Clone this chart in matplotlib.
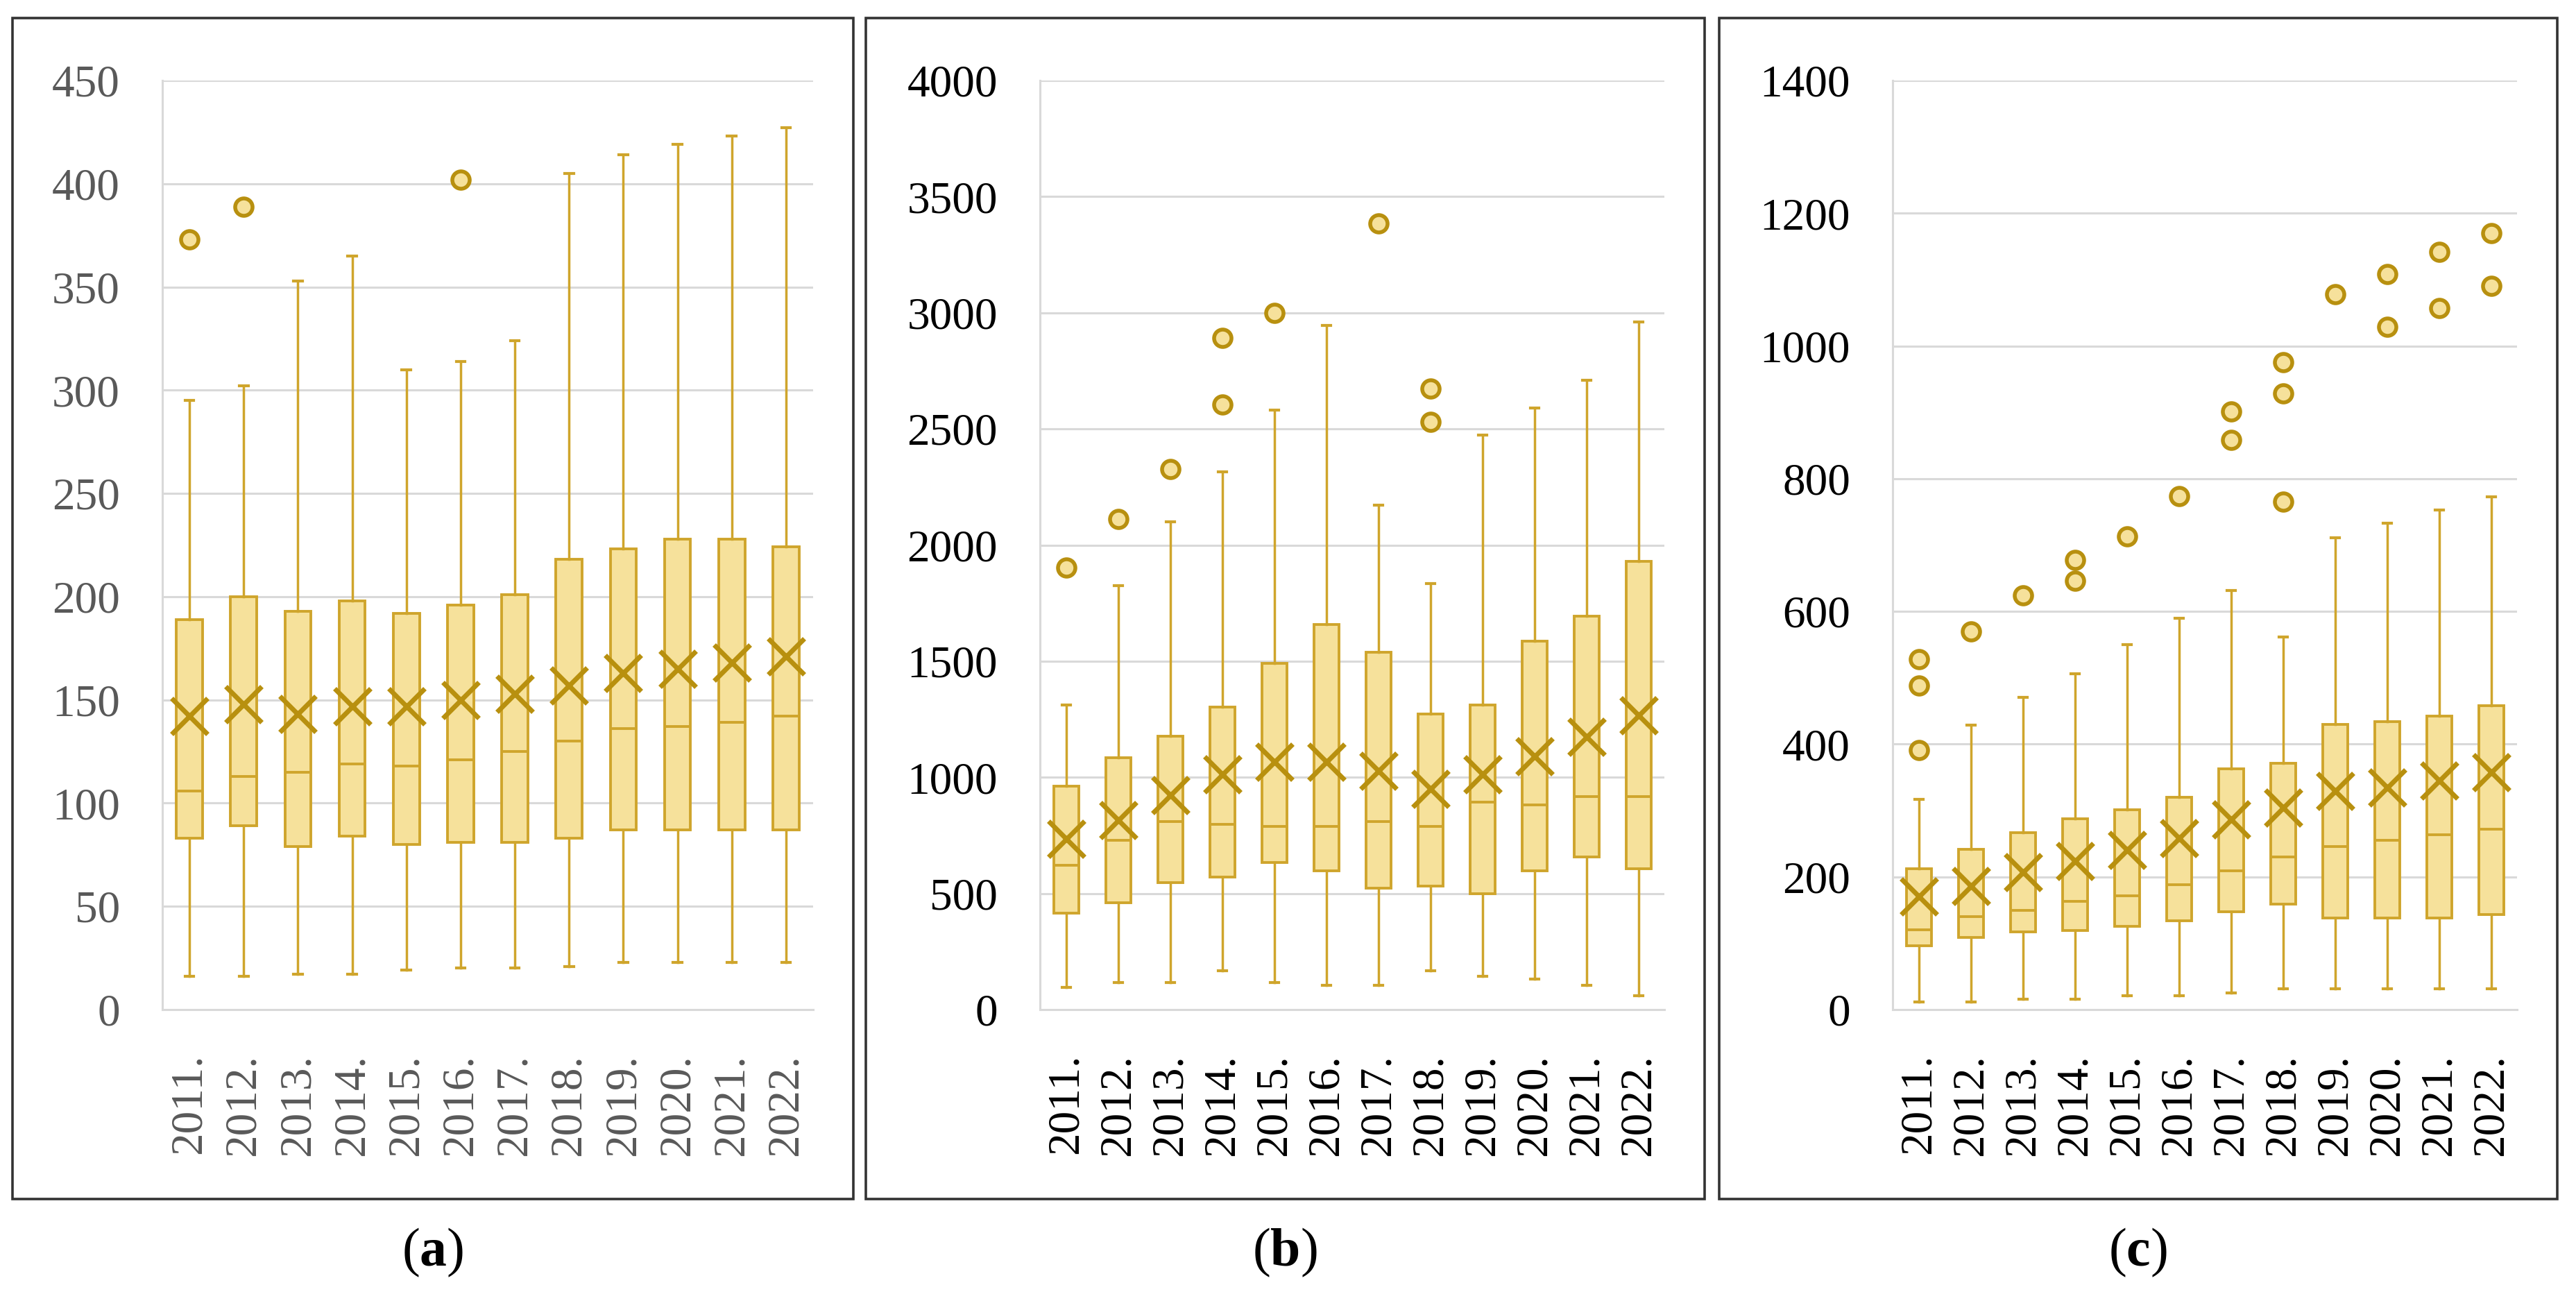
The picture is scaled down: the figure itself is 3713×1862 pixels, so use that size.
import matplotlib
matplotlib.use("Agg")
import matplotlib.pyplot as plt
from matplotlib.patches import Rectangle

plt.rcParams['font.family'] = ['Liberation Serif', 'DejaVu Serif']
plt.rcParams['mathtext.fontset'] = 'custom'
plt.rcParams['mathtext.rm'] = 'Liberation Serif'
plt.rcParams['mathtext.bf'] = 'Liberation Serif:bold'

years = ['2011.', '2012.', '2013.', '2014.', '2015.', '2016.',
         '2017.', '2018.', '2019.', '2020.', '2021.', '2022.']

# panel (a)
a_lo = [16, 16, 17, 17, 19, 20, 20, 21, 23, 23, 23, 23]
a_q1 = [83, 89, 79, 84, 80, 81, 81, 83, 87, 87, 87, 87]
a_med = [106, 113, 115, 119, 118, 121, 125, 130, 136, 137, 139, 142]
a_q3 = [189, 200, 193, 198, 192, 196, 201, 218, 223, 228, 228, 224]
a_hi = [295, 302, 353, 365, 310, 314, 324, 405, 414, 419, 423, 427]
a_mean = [142, 148, 143, 147, 147, 150, 153, 157, 163, 165, 168, 171]
a_out = [[373], [389], [], [], [], [402], [], [], [], [], [], []]

# panel (b)
b_lo = [96, 117, 117, 167, 117, 106, 106, 167, 142, 131, 106, 60]
b_q1 = [415, 461, 547, 571, 632, 596, 522, 532, 500, 596, 657, 607]
b_med = [621, 728, 809, 799, 788, 788, 809, 788, 894, 880, 916, 916]
b_q3 = [962, 1083, 1178, 1303, 1491, 1657, 1537, 1274, 1310, 1587, 1693, 1931]
b_hi = [1310, 1824, 2101, 2314, 2580, 2946, 2172, 1835, 2474, 2591, 2708, 2960]
b_mean = [735, 816, 923, 1012, 1065, 1065, 1029, 951, 1012, 1090, 1175, 1267]
b_out = [[1902], [2112], [2328], [2605, 2893], [2999], [], [3386],
         [2531, 2673], [], [], [], []]

# panel (c)
c_lo = [12, 12, 16, 16, 21, 21, 25, 31, 31, 31, 31, 31]
c_q1 = [96, 109, 117, 119, 125, 134, 147, 159, 138, 138, 138, 143]
c_med = [120, 140, 150, 163, 171, 188, 209, 230, 246, 255, 263, 272]
c_q3 = [212, 242, 267, 288, 301, 320, 363, 371, 430, 434, 442, 458]
c_hi = [317, 429, 471, 506, 550, 590, 631, 561, 711, 733, 753, 773]
c_mean = [170, 186, 207, 224, 241, 258, 286, 304, 329, 335, 345, 358]
c_out = [[391, 488, 528], [570], [624], [646, 677], [713], [774], [858, 901],
         [765, 928, 975], [1078], [1029, 1108], [1057, 1142], [1091, 1170]]

FILL = '#F6E19B'
EDGE = '#CFA52C'
DARK = '#B8900F'
W, H = 3713, 1862

fig = plt.figure(figsize=(W / 100, H / 100), dpi=100)

panels = [
    (a_lo, a_q1, a_med, a_q3, a_hi, a_mean, a_out, 450, 50, '#595959', 234, 1172, 17.5, 1230, 'a'),
    (b_lo, b_q1, b_med, b_q3, b_hi, b_mean, b_out, 4000, 500, 'black', 1499, 2399, 1247.5, 2457, 'b'),
    (c_lo, c_q1, c_med, c_q3, c_hi, c_mean, c_out, 1400, 200, 'black', 2728, 3628, 2477.5, 3686, 'c'),
]

y_top, y_bot = 116, 1455
for lo, q1, med, q3, hi, mean, out, ymax, step, tcol, x0, x1, f0, f1, tag in panels:
    ax = fig.add_axes([x0 / W, 1 - y_bot / H, (x1 - x0) / W, (y_bot - y_top) / H])
    stats = []
    for i in range(len(years)):
        stats.append(dict(whislo=lo[i], q1=q1[i], med=med[i], q3=q3[i], whishi=hi[i],
                          mean=mean[i], fliers=out[i], label=years[i]))
    ax.bxp(stats, positions=range(1, 13), widths=0.48, capwidths=0.16,
           showmeans=True, patch_artist=True,
           boxprops=dict(facecolor=FILL, edgecolor=EDGE, linewidth=2.8),
           medianprops=dict(color=EDGE, linewidth=2.8),
           whiskerprops=dict(color=EDGE, linewidth=2.5),
           capprops=dict(color=EDGE, linewidth=3),
           meanprops=dict(marker='x', markersize=38, markeredgewidth=5,
                          markeredgecolor=DARK),
           flierprops=dict(marker='o', markersize=18, markerfacecolor=FILL,
                           markeredgecolor=DARK, markeredgewidth=4))
    ax.set_xlim(0.5, 12.5)
    ax.set_ylim(0, ymax)
    ax.set_yticks(range(0, ymax + 1, step))
    ax.grid(axis='y', color='#D9D9D9', linewidth=2.2)
    ax.set_axisbelow(True)
    for s in ['top', 'right']:
        ax.spines[s].set_visible(False)
    for s in ['left', 'bottom']:
        ax.spines[s].set_color('#D9D9D9')
        ax.spines[s].set_linewidth(2.2)
    ax.tick_params(axis='y', length=0, pad=44, labelsize=47, labelcolor=tcol)
    ax.tick_params(axis='x', length=0, pad=46, labelsize=47, labelcolor=tcol,
                   labelrotation=90)
    fig.add_artist(Rectangle((f0 / W, 1 - 1728 / H), (f1 - f0) / W, (1728 - 26) / H,
                             transform=fig.transFigure, fill=False,
                             edgecolor='#333333', linewidth=2.6))
    fig.text((f0 + f1) / 2 / W, 1 - 1805 / H, r'($\mathbf{' + tag + r'}$)',
             ha='center', va='center', fontsize=56)

fig.savefig('out.png', dpi=100)
